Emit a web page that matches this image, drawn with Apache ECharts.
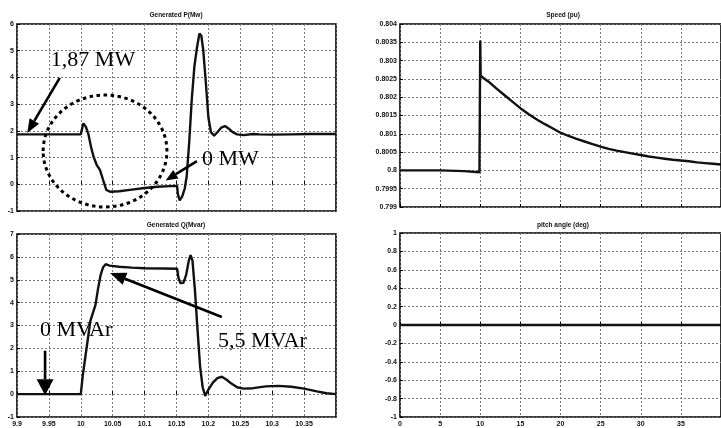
<!DOCTYPE html>
<html><head><meta charset="utf-8">
<script src="https://cdn.jsdelivr.net/npm/echarts@6/dist/echarts.min.js"></script>
<style>html,body{margin:0;padding:0;background:#fff}#c{width:721px;height:428px}</style>
</head><body><div id="c"></div>
<script>
// ---- data ----
const pTitle = 'Generated P(Mw)';
const qTitle = 'Generated Q(Mvar)';
const sTitle = 'Speed (pu)';
const aTitle = 'pitch angle (deg)';

const pPoints = [[9.9,1.87],[10.0,1.87],[10.004,2.28],[10.008,2.15],[10.012,1.87],[10.016,1.4],[10.02,1.03],[10.025,0.72],[10.03,0.54],[10.035,0.16],[10.04,-0.21],[10.046,-0.28],[10.06,-0.26],[10.08,-0.2],[10.1,-0.14],[10.12,-0.09],[10.14,-0.07],[10.151,-0.06],[10.152,-0.35],[10.155,-0.6],[10.159,-0.45],[10.163,-0.15],[10.166,0.3],[10.17,1.6],[10.174,3.2],[10.178,4.4],[10.182,5.1],[10.186,5.65],[10.189,5.55],[10.192,5.0],[10.196,3.8],[10.2,2.5],[10.204,1.95],[10.209,1.82],[10.214,1.95],[10.22,2.12],[10.226,2.18],[10.232,2.08],[10.238,1.95],[10.245,1.87],[10.255,1.84],[10.27,1.88],[10.28,1.87],[10.3,1.86],[10.33,1.87],[10.36,1.88],[10.4,1.88]];

const qPoints = [[9.9,0],[10.0,0],[10.003,0.8],[10.007,1.6],[10.011,2.4],[10.015,3.2],[10.019,3.55],[10.023,3.9],[10.027,4.6],[10.031,5.2],[10.035,5.55],[10.039,5.68],[10.045,5.62],[10.06,5.57],[10.08,5.53],[10.1,5.5],[10.13,5.49],[10.151,5.48],[10.153,5.1],[10.156,4.85],[10.161,4.87],[10.165,5.2],[10.169,5.8],[10.172,6.08],[10.175,5.85],[10.179,4.5],[10.183,2.8],[10.187,1.2],[10.191,0.3],[10.195,-0.08],[10.2,0.2],[10.207,0.5],[10.214,0.7],[10.221,0.76],[10.228,0.64],[10.236,0.46],[10.245,0.3],[10.255,0.24],[10.27,0.26],[10.29,0.34],[10.31,0.36],[10.33,0.32],[10.35,0.24],[10.37,0.12],[10.385,0.04],[10.4,0.0]];

const sPoints = [[0,0.8],[5,0.8],[8,0.79998],[9.9,0.79995],[10,0.79993],[10,0.80355],[10.05,0.8026],[10.3,0.80254],[11,0.80243],[12,0.80224],[13,0.80206],[14,0.80188],[15,0.8017],[16,0.80154],[17,0.8014],[18,0.80127],[19,0.80115],[20,0.80103],[21,0.80094],[22,0.80086],[23,0.80079],[24,0.80072],[25,0.80065],[26,0.80059],[27,0.80054],[28,0.8005],[29,0.80046],[30,0.80042],[31,0.80038],[32,0.80035],[33,0.80032],[34,0.80029],[35,0.80027],[36,0.80025],[37,0.80022],[38,0.8002],[39,0.80018],[40,0.80016]];

const aPoints = [[0,0],[40,0]];

// annotation anchors (data coordinates)
const annP = {label1:'1,87 MW', label1At:[9.953,4.66], arrow1:[[9.967,3.98],[9.916,1.92]],
              label2:'0 MW', label2At:[10.19,0.95], arrow2:[[10.182,0.87],[10.133,0.14]],
              ellipse:[[9.941,3.34],[10.135,-0.85]]};
const annQ = {label1:'0 MVAr', label1At:[9.936,2.8], arrow1:[[9.944,1.9],[9.944,-0.05]],
              label2:'5,5 MVAr', label2At:[10.215,2.3], arrow2:[[10.221,3.37],[10.046,5.3]]};

// ---- chart ----
const chart = echarts.init(document.getElementById('c'));
const lblFont = {fontSize:7, fontWeight:'bold', color:'#111', fontFamily:'Liberation Sans Narrow, Liberation Sans, Arial'};
const split = {show:true, lineStyle:{color:'#777', type:[2,2], width:1}};
function xA(gi, min, max, interval, showLabel){
  return {type:'value', gridIndex:gi, min:min, max:max, interval:interval,
    axisLine:{show:false}, axisTick:{show:true, inside:true, length:3, lineStyle:{color:'#000'}},
    axisLabel:Object.assign({show:showLabel, margin:4, showMaxLabel:false}, lblFont), splitLine:split};
}
function yA(gi, min, max, interval){
  return {type:'value', gridIndex:gi, min:min, max:max, interval:interval,
    axisLine:{show:false}, axisTick:{show:true, inside:true, length:3, lineStyle:{color:'#000'}},
    axisLabel:Object.assign({margin:3}, lblFont), splitLine:split};
}
const gridStyle = {show:true, borderColor:'#000', borderWidth:1.6, backgroundColor:'#fff'};
function ttl(text, x, y){
  return {text:text, left:x, top:y, textAlign:'center', padding:0,
    textStyle:{fontSize:6.5, fontWeight:'bold', color:'#111', fontFamily:'Liberation Sans Narrow, Liberation Sans, Arial'}};
}
function ser(i, data, w){
  return {type:'line', xAxisIndex:i, yAxisIndex:i, data:data, showSymbol:false, symbol:'none',
    lineStyle:{color:'#111', width:w}, animation:false, z:3};
}
chart.setOption({
  animation:false,
  backgroundColor:'#fff',
  title:[ttl(pTitle,176,12), ttl(qTitle,176,222), ttl(sTitle,563,12), ttl(aTitle,563,222)],
  grid:[
    Object.assign({left:17, top:24, width:319, height:187}, gridStyle),
    Object.assign({left:17, top:234, width:319, height:185}, gridStyle),
    Object.assign({left:400, top:24, width:330, height:183}, gridStyle),
    Object.assign({left:400, top:233, width:330, height:184}, gridStyle)
  ],
  xAxis:[xA(0,9.9,10.4,0.05,false), xA(1,9.9,10.4,0.05,true), xA(2,0,40,5,false), xA(3,0,40,5,true)],
  yAxis:[yA(0,-1,6,1), yA(1,-1,7,1), yA(2,0.799,0.804,0.0005), yA(3,-1,1,0.2)],
  series:[ser(0,pPoints,2.4), ser(1,qPoints,2.4), ser(2,sPoints,2.4), ser(3,aPoints,2.4)]
});

function px(i, p){ return chart.convertToPixel({xAxisIndex:i, yAxisIndex:i}, p); }
function arrow(a, b, headLen, headW){
  const dx=b[0]-a[0], dy=b[1]-a[1], L=Math.hypot(dx,dy), ux=dx/L, uy=dy/L;
  const bx=b[0]-ux*headLen, by=b[1]-uy*headLen, nx=-uy, ny=ux;
  return [
    {type:'line', shape:{x1:a[0],y1:a[1],x2:bx,y2:by}, style:{stroke:'#000', lineWidth:2.6}, z:10},
    {type:'polygon', shape:{points:[[b[0],b[1]],[bx+nx*headW/2,by+ny*headW/2],[bx-nx*headW/2,by-ny*headW/2]]}, style:{fill:'#000'}, z:10}
  ];
}
function label(i, text, at){
  const p = px(i, at);
  return {type:'text', x:p[0], y:p[1], style:{text:text, fill:'#000', font:'22px "Liberation Serif", "Times New Roman", serif', verticalAlign:'middle', align:'left'}, z:11};
}
const g = [];
g.push(label(0, annP.label1, annP.label1At));
g.push(...arrow(px(0,annP.arrow1[0]), px(0,annP.arrow1[1]), 14, 11));
g.push(label(0, annP.label2, annP.label2At));
g.push(...arrow(px(0,annP.arrow2[0]), px(0,annP.arrow2[1]), 12, 10));
const e0 = px(0, annP.ellipse[0]), e1 = px(0, annP.ellipse[1]);
g.push({type:'ellipse', shape:{cx:(e0[0]+e1[0])/2, cy:(e0[1]+e1[1])/2, rx:Math.abs(e1[0]-e0[0])/2, ry:Math.abs(e1[1]-e0[1])/2},
  style:{fill:null, stroke:'#000', lineWidth:3, lineDash:[3.5,3.5]}, z:9});
g.push(label(1, annQ.label1, annQ.label1At));
g.push(...arrow(px(1,annQ.arrow1[0]), px(1,annQ.arrow1[1]), 16, 17));
g.push(label(1, annQ.label2, annQ.label2At));
g.push(...arrow(px(1,annQ.arrow2[0]), px(1,annQ.arrow2[1]), 16, 13));
chart.setOption({graphic:g});
</script></body></html>
